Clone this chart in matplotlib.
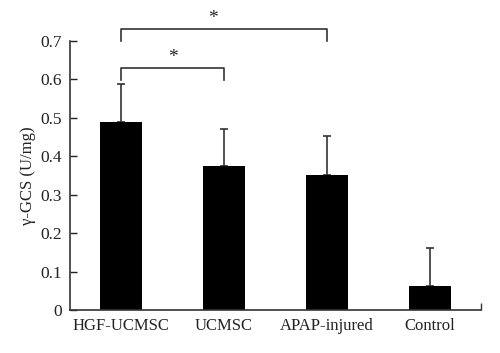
import matplotlib
matplotlib.use("Agg")
import matplotlib.pyplot as plt
import numpy as np

categories = ["HGF-UCMSC", "UCMSC", "APAP-injured", "Control"]
values = [0.488, 0.374, 0.352, 0.063]
errors = [0.099, 0.097, 0.101, 0.099]
yticks = [0, 0.1, 0.2, 0.3, 0.4, 0.5, 0.6, 0.7]
ytick_labels = ["0", "0.1", "0.2", "0.3", "0.4", "0.5", "0.6", "0.7"]

plt.rcParams['font.family'] = ['Liberation Serif', 'DejaVu Serif']

fig = plt.figure(figsize=(5.0, 3.53), dpi=100)
ax = fig.add_axes([0.14, 0.1218, 0.822, 0.7622])

x = np.arange(len(categories))
ax.bar(x, values, width=0.41, color='black', zorder=2)
ax.errorbar(x, values, yerr=[np.zeros(len(errors)), errors], fmt='none',
            ecolor='#333333', elinewidth=1.2, capsize=3, capthick=1.2, zorder=1)

ax.set_xlim(-0.5, 3.5)
ax.set_ylim(0, 0.7)
ax.set_yticks(yticks)
ax.set_yticklabels(ytick_labels)
ax.set_xticks(x)
ax.set_xticklabels(categories)
ax.tick_params(axis='x', length=0, labelsize=12, pad=6, colors='#222222')
ax.tick_params(axis='y', direction='in', length=5, labelsize=12.5, pad=6, colors='#222222', width=1)
ax.set_xticks([3.5], minor=True)
ax.tick_params(axis='x', which='minor', direction='in', length=5, width=1, color='#333333')

for s in ['top', 'right']:
    ax.spines[s].set_visible(False)
for s in ['left', 'bottom']:
    ax.spines[s].set_color('#333333')
    ax.spines[s].set_linewidth(1.2)

ax.set_ylabel("γ-GCS (U/mg)", fontsize=12, labelpad=3, color='#222222')

# significance brackets
def bracket(x1, x2, y, h, star_x):
    ax.plot([x1, x1, x2, x2], [y - h, y, y, y - h], color='#333333', lw=1.2,
            clip_on=False)
    ax.text(star_x, y + 0.004, "*", ha='center', va='bottom', fontsize=14,
            color='#222222', clip_on=False)

bracket(0, 1, 0.630, 0.032, 0.5)
bracket(0, 2, 0.732, 0.032, 0.89)

fig.savefig("out.png", dpi=100)
